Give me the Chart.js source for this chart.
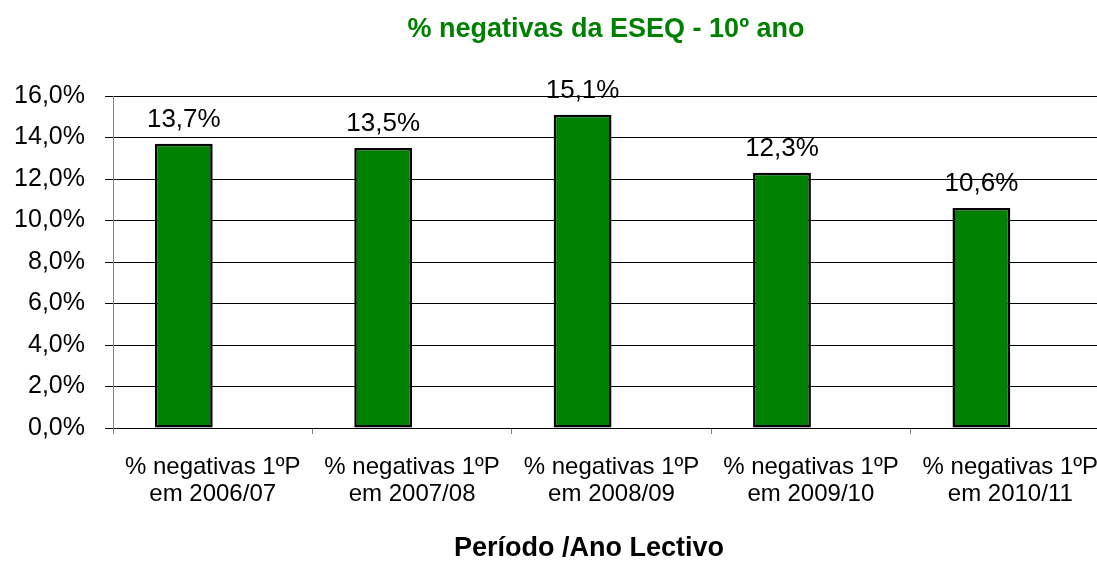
<!DOCTYPE html>
<html>
<head>
<meta charset="utf-8">
<script src="https://cdn.jsdelivr.net/npm/chart.js@4"></script>
<style>
  html, body { margin: 0; padding: 0; background: #fff; overflow: hidden; }
  #wrap { width: 1120px; height: 581px; position: relative; }
</style>
</head>
<body>
<div id="wrap"><canvas id="grafico"></canvas></div>
<script>
const periodos = [
  ['% negativas 1ºP', 'em 2006/07'],
  ['% negativas 1ºP', 'em 2007/08'],
  ['% negativas 1ºP', 'em 2008/09'],
  ['% negativas 1ºP', 'em 2009/10'],
  ['% negativas 1ºP', 'em 2010/11']
];
const negativas = [13.7, 13.5, 15.1, 12.3, 10.6];
const vazio = [null, null, null, null, null]; // 2a serie vazia (desloca as barras como no Excel)
const yTicks = [0, 2, 4, 6, 8, 10, 12, 14, 16];

const titulo = '% negativas da ESEQ - 10º ano';
const tituloX = 'Período /Ano Lectivo';
const fonte = '"Liberation Sans", Arial, sans-serif';

const fmt = v => v.toFixed(1).replace('.', ',') + '%';

// etiquetas em cima das barras
const etiquetas = {
  id: 'etiquetas',
  afterDatasetsDraw(chart) {
    const ctx = chart.ctx;
    const meta = chart.getDatasetMeta(0);
    ctx.save();
    ctx.font = '26px ' + fonte;
    ctx.fillStyle = '#000';
    ctx.textAlign = 'center';
    ctx.textBaseline = 'alphabetic';
    meta.data.forEach((bar, i) => {
      ctx.fillText(fmt(negativas[i]), bar.x, bar.y - 17);
    });
    ctx.restore();
  }
};

// titulos (no original nao estao centrados na area do grafico)
const titulos = {
  id: 'titulos',
  afterDraw(chart) {
    const ctx = chart.ctx;
    const a = chart.chartArea;
    ctx.save();
    ctx.font = 'bold 27px ' + fonte;
    ctx.textAlign = 'center';
    ctx.textBaseline = 'middle';
    ctx.fillStyle = '#008000';
    ctx.fillText(titulo, a.left + 493, a.top - 66);
    ctx.fillStyle = '#000';
    ctx.fillText(tituloX, a.left + 476, a.bottom + 121);
    ctx.restore();
  }
};

new Chart(document.getElementById('grafico'), {
  type: 'bar',
  data: {
    labels: periodos,
    datasets: [
      { label: 'negativas', data: negativas, backgroundColor: '#008000', borderColor: '#000', borderWidth: 2.5,
        borderSkipped: false, categoryPercentage: 0.58, barPercentage: 1 },
      { label: 'vazio', data: vazio, backgroundColor: '#008000',
        categoryPercentage: 0.58, barPercentage: 1 }
    ]
  },
  options: {
    responsive: true,
    maintainAspectRatio: false,
    animation: false,
    layout: { padding: { left: 0, right: 10, top: 96, bottom: 0 } },
    plugins: {
      legend: { display: false },
      tooltip: { enabled: false },
      title: { display: false }
    },
    scales: {
      x: {
        grid: { display: true, drawOnChartArea: false, drawTicks: true, tickLength: 6, color: '#808080', offset: true },
        border: { display: true, color: '#000', width: 1 },
        ticks: { color: '#000', font: { family: fonte, size: 24, lineHeight: 1.12 }, padding: 20, maxRotation: 0, autoSkip: false },
        afterFit: s => { s.height = 153; }
      },
      y: {
        min: 0,
        max: 16,
        afterBuildTicks: s => { s.ticks = yTicks.map(v => ({ value: v })); },
        grid: { color: '#000', lineWidth: 1, drawTicks: true, tickLength: 8 },
        border: { display: true, color: '#808080', width: 1 },
        ticks: { color: '#000', font: { family: fonte, size: 25 }, padding: 20, callback: v => fmt(v) },
        afterFit: s => { s.width = 113; }
      }
    }
  },
  plugins: [etiquetas, titulos]
});
</script>
</body>
</html>
